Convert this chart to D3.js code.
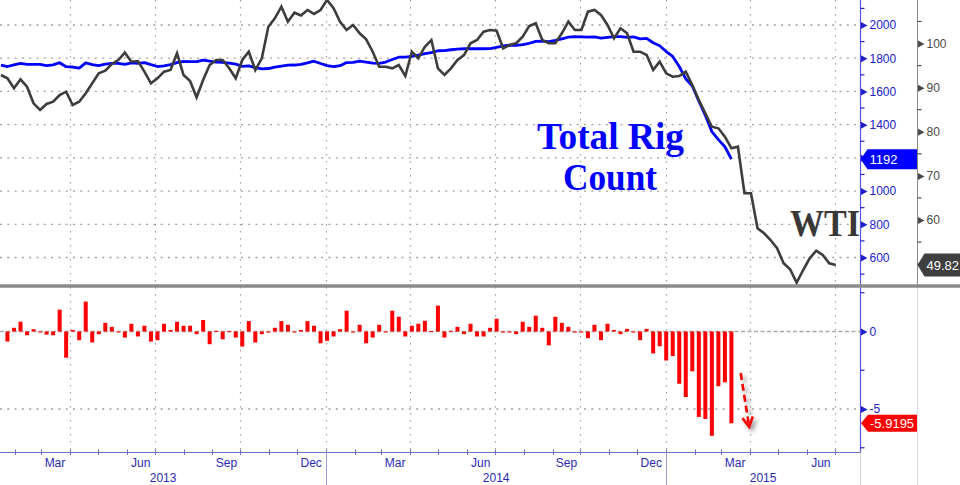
<!DOCTYPE html>
<html><head><meta charset="utf-8">
<script src="https://cdn.jsdelivr.net/npm/d3@7/dist/d3.min.js"></script>
<style>
body{margin:0;background:#fff;}
svg{display:block;font-family:"Liberation Sans",Arial,sans-serif;}
</style>
</head><body>
<svg id="chart" width="960" height="485"></svg>
<script>
// ---------------- DATA ----------------
// weekly observations, first week plotted at 2013-01-17
const startDate = Date.UTC(2013, 0, 17);

// Total rig count (weekly)
const rigCount = [
 1758,1750,1760,1769,1763,1763,1763,1755,1760,1773,
 1749,1747,1740,1772,1762,1756,1765,1769,1769,1763,
 1772,1769,1773,1761,1750,1754,1761,1773,1781,1780,
 1779,1789,1783,1776,1775,1770,1764,1751,1754,1743,
 1736,1738,1746,1753,1758,1759,1763,1772,1782,1768,
 1755,1749,1755,1774,1775,1782,1776,1770,1769,1777,
 1792,1806,1806,1811,1818,1828,1834,1845,1846,1851,
 1855,1858,1857,1857,1857,1858,1866,1874,1878,1877,
 1882,1890,1901,1903,1900,1907,1917,1927,1930,1929,
 1927,1929,1921,1926,1930,1930,1926,1928,1917,1920,
 1893,1875,1840,1811,1750,1676,1633,1543,1456,1358,
 1310,1267,1192
];

// Weekly % change of rig count (weeks 1..112)
const rigChangePct = [
 -0.65,0.24,0.63,-0.24,0.15,-0.05,-0.2,-0.24,1.41,-1.69,
 0.1,-0.56,1.93,-0.71,-0.17,0.56,0.3,-0.04,-0.39,0.5,
 -0.32,0.37,-0.65,-0.56,0.5,0.1,0.63,0.37,0.37,-0.17,
 0.74,-0.82,0.04,-0.5,0.02,-0.39,-0.97,0.67,-0.71,-0.17,
 -0.04,0.24,0.67,0.43,-0.04,0.1,0.67,0.37,-0.76,-0.6,
 -0.32,0.15,1.34,-0.02,0.43,-0.76,-0.39,0.43,-0.04,1.34,
 0.95,-0.32,0.37,0.5,0.69,0.03,1.67,-0.39,0.04,0.3,
 -0.17,0.5,-0.32,-0.32,0.24,0.82,-0.02,-0.02,-0.17,0.63,
 0.3,1.02,0.24,-0.89,0.95,0.56,0.3,-0.02,-0.02,-0.43,
 0.43,-0.56,0.5,0.1,-0.17,0.17,-0.02,-0.56,0.17,-1.41,
 -0.95,-1.87,-1.58,-3.37,-4.23,-2.57,-5.51,-5.64,-6.73,-3.53,
 -3.28,-5.9195
];

// WTI price (weekly, shifted forward)
const wtiPrice = [
 92.86,92.11,89.85,91.89,90.21,86.45,84.93,86.29,86.81,88.33,
 89.08,86.06,86.81,88.71,90.98,93.25,93.84,95.35,96.26,97.92,
 95.88,96.03,93.61,90.98,92.11,93.61,93.99,97.78,92.86,91.5,
 87.81,91.73,95.13,96.26,96.26,94.38,92.11,96.26,98.14,93.99,
 96.65,103.81,105.71,108.34,104.94,106.98,106.35,107.59,106.69,107.59,
 109.86,107.98,104.94,
 103.06,104.19,102.31,100.95,98.14,94.74,94.74,94.38,95.13,92.63,
 98.14,96.65,99.27,100.79,94.38,92.86,94.38,96.26,97.39,100.05,
 100.79,102.67,103.06,102.9,98.91,99.66,100.05,101.54,103.97,104.58,
 100.79,100.05,100.05,102.31,104.94,103.06,103.06,107.21,107.59,106.46,
 104.19,101.18,103.44,102.31,98.14,98.14,97.39,93.99,95.88,93.25,
 92.48,92.63,93.61,90.59,87.2,84.18,81.14,80.78,78.88,76.25,
 76.61,66.05,66.05,58.12,56.99,55.47,53.59,50.19,48.83,45.79,
 48.67,51.32,53.04,52.07,50.19,49.82
];

const rigTicks = [600, 800, 1000, 1200, 1400, 1600, 1800, 2000];
const rigMinorTicks = [500, 700, 900, 1100, 1300, 1500, 1700, 1900, 2100];
const wtiTicks = [60, 70, 80, 90, 100];
const wtiMinorTicks = [50, 55, 65, 75, 85, 95, 105, 110];
const changeTicks = [0, -5];
const changeMinorTicks = [2.5, -2.5, -7.5];
const monthLabels = {2: "Mar", 5: "Jun", 8: "Sep", 11: "Dec"};
const lastRigLabel = "1192";
const lastWtiLabel = "49.82";
const lastChangeLabel = "-5.9195";
const rigTitle = ["Total Rig", "Count"];
const wtiTitle = "WTI";
// annotation arrow (date, % change) start/end
const arrowFrom = [Date.UTC(2015, 2, 22), -2.68];
const arrowTo = [Date.UTC(2015, 2, 31), -6.15];

// ---------------- LAYOUT ----------------
const W = 960, H = 485;
const plotR = 860.5, wtiAxisX = 917.5;
const topB = 285, sepY = 286, axisY = 452;
const week = i => new Date(startDate + i * 7 * 864e5);

const x = d3.scaleUtc()
  .domain([new Date(Date.UTC(2013, 0, 16)), new Date(Date.UTC(2015, 6, 28))])
  .range([0, 860]);
const yRig = d3.scaleLinear().domain([600, 2000]).range([257.5, 25]);
const yWti = d3.scaleLinear().domain([60, 100]).range([220, 43.5]);
const yChg = d3.scaleLinear().domain([-5, 0]).range([409, 331.5]);

const svg = d3.select("#chart");
svg.append("rect").attr("width", W).attr("height", H).attr("fill", "#fff");

const defs = svg.append("defs");
defs.append("clipPath").attr("id", "clipTop")
  .append("rect").attr("x", 0).attr("y", 0).attr("width", 860).attr("height", topB);
const blur = defs.append("filter").attr("id", "shadow").attr("x", "-50%").attr("y", "-50%").attr("width", "200%").attr("height", "200%");
blur.append("feGaussianBlur").attr("stdDeviation", 2);

// ---------------- GRID ----------------
const grid = svg.append("g");
const quarters = d3.utcMonth.every(3).range(x.domain()[0], x.domain()[1]);
grid.selectAll(".vg").data(quarters).join("line")
  .attr("x1", d => Math.round(x(d)) + 0.5).attr("x2", d => Math.round(x(d)) + 0.5)
  .attr("y1", 0).attr("y2", axisY)
  .attr("stroke", "#a0a0a0").attr("stroke-width", 1.2).attr("stroke-dasharray", "1.5,5.5");
grid.selectAll(".hg").data(rigTicks).join("line")
  .attr("x1", 0).attr("x2", plotR).attr("y1", d => yRig(d)).attr("y2", d => yRig(d))
  .attr("stroke", "#a0a0a0").attr("stroke-width", 1.3).attr("stroke-dasharray", "2,5.3");
grid.append("line").attr("x1", 0).attr("x2", plotR)
  .attr("y1", yChg(-5)).attr("y2", yChg(-5))
  .attr("stroke", "#a0a0a0").attr("stroke-width", 1.3).attr("stroke-dasharray", "2,5.3");
grid.append("line").attr("x1", 0).attr("x2", plotR)
  .attr("y1", yChg(0)).attr("y2", yChg(0))
  .attr("stroke", "#aaaaaa").attr("stroke-width", 1.3).attr("stroke-dasharray", "4,2.5");

// ---------------- BARS ----------------
svg.append("g").selectAll("rect").data(rigChangePct).join("rect")
  .attr("x", (d, i) => x(week(i + 1)) - 2)
  .attr("width", 4)
  .attr("y", d => Math.min(yChg(d), yChg(0)))
  .attr("height", d => Math.max(1, Math.abs(yChg(d) - yChg(0))))
  .attr("fill", "#ff0000");

// ---------------- LINES ----------------
const lines = svg.append("g").attr("clip-path", "url(#clipTop)");
lines.append("path").datum(rigCount)
  .attr("d", d3.line().x((d, i) => x(week(i))).y(d => yRig(d)))
  .attr("fill", "none").attr("stroke", "#0000ff").attr("stroke-width", 2.8)
  .attr("stroke-linejoin", "round");
lines.append("path").datum(wtiPrice)
  .attr("d", d3.line().x((d, i) => x(week(i))).y(d => yWti(d)))
  .attr("fill", "none").attr("stroke", "#3d3d3d").attr("stroke-width", 2.6)
  .attr("stroke-linejoin", "miter");

// ---------------- ANNOTATION TEXT ----------------
const tt = svg.append("text").attr("font-family", "'Liberation Serif','Times New Roman',serif")
  .attr("font-weight", "bold").attr("font-size", 37).attr("fill", "#0000ff");
tt.append("tspan").attr("x", 537).attr("y", 149).attr("textLength", 147).attr("lengthAdjust", "spacingAndGlyphs").text(rigTitle[0]);
tt.append("tspan").attr("x", 563).attr("y", 190).attr("textLength", 94).attr("lengthAdjust", "spacingAndGlyphs").text(rigTitle[1]);
svg.append("text").attr("font-family", "'Liberation Serif','Times New Roman',serif")
  .attr("font-weight", "bold").attr("font-size", 38).attr("fill", "#383838")
  .attr("x", 790).attr("y", 236).attr("textLength", 70).attr("lengthAdjust", "spacingAndGlyphs")
  .text(wtiTitle);

// ---------------- ARROW ----------------
const ax1 = x(new Date(arrowFrom[0])), ay1 = yChg(arrowFrom[1]);
const ax2 = x(new Date(arrowTo[0])), ay2 = yChg(arrowTo[1]);
const ang = Math.atan2(ay2 - ay1, ax2 - ax1);
const hl = 11, ha = 0.5;
const head = [[ax2 - hl * Math.cos(ang - ha), ay2 - hl * Math.sin(ang - ha)], [ax2, ay2], [ax2 - hl * Math.cos(ang + ha), ay2 - hl * Math.sin(ang + ha)]];
const arrowG = svg.append("g");
[["#9a9a9a", 3, 3, "url(#shadow)"], ["#ff0000", 0, 0, null]].forEach(([c, dx, dy, f]) => {
  const g = arrowG.append("g").attr("transform", `translate(${dx},${dy})`);
  if (f) g.attr("filter", f);
  g.append("line").attr("x1", ax1).attr("y1", ay1).attr("x2", ax2 - 3 * Math.cos(ang)).attr("y2", ay2 - 3 * Math.sin(ang))
    .attr("stroke", c).attr("stroke-width", 2.6).attr("stroke-dasharray", "7,4");
  g.append("path").attr("d", d3.line()(head)).attr("fill", "none").attr("stroke", c).attr("stroke-width", 2.6);
});

// ---------------- FRAME / SEPARATORS ----------------
svg.append("line").attr("x1", plotR).attr("x2", plotR).attr("y1", axisY).attr("y2", H).attr("stroke", "#d0d0d0");
svg.append("line").attr("x1", wtiAxisX).attr("x2", wtiAxisX).attr("y1", sepY).attr("y2", H).attr("stroke", "#e0e0e0");
svg.append("line").attr("x1", wtiAxisX).attr("x2", wtiAxisX).attr("y1", 0).attr("y2", sepY).attr("stroke", "#8a8a8a");
svg.append("line").attr("x1", plotR).attr("x2", plotR).attr("y1", 0).attr("y2", axisY).attr("stroke", "#5555dd").attr("stroke-width", 1.2);
svg.append("line").attr("x1", 0).attr("x2", W).attr("y1", sepY).attr("y2", sepY).attr("stroke", "#8c8c8c").attr("stroke-width", 3.5);

// ---------------- X AXIS ----------------
const xa = svg.append("g");
xa.append("line").attr("x1", 0).attr("x2", plotR).attr("y1", axisY + 0.5).attr("y2", axisY + 0.5).attr("stroke", "#7070d0").attr("stroke-width", 1.2);
const months = d3.utcMonth.range(x.domain()[0], x.domain()[1]);
xa.selectAll(".mt").data(months).join("line")
  .attr("x1", d => Math.round(x(d)) + 0.5).attr("x2", d => Math.round(x(d)) + 0.5)
  .attr("y1", axisY - 2.5).attr("y2", axisY + 3).attr("stroke", "#7070d0");
xa.selectAll(".ml").data(months.filter(d => monthLabels[d.getUTCMonth()] !== undefined)).join("text")
  .attr("x", d => x(d3.utcDay.offset(d, 15))).attr("y", 467)
  .attr("text-anchor", "middle").attr("font-size", 12).attr("fill", "#2a2ab5")
  .text(d => monthLabels[d.getUTCMonth()]);
const years = [2013, 2014, 2015];
const yb = y => Math.max(0, x(new Date(Date.UTC(y, 0, 1))));
const ye = y => Math.min(860, x(new Date(Date.UTC(y + 1, 0, 1))));
years.forEach(yr => {
  xa.append("text").attr("x", (yb(yr) + ye(yr)) / 2).attr("y", 482)
    .attr("text-anchor", "middle").attr("font-size", 12).attr("fill", "#2a2ab5").text(yr);
});
[2014, 2015].forEach(yr => {
  const px = Math.round(x(new Date(Date.UTC(yr, 0, 1)))) + 0.5;
  xa.append("line").attr("x1", px).attr("x2", px).attr("y1", axisY).attr("y2", H).attr("stroke", "#9a9ad8");
});

// ---------------- Y AXES ----------------
function styleAxis(g, color, ax, minor, scale) {
  g.select(".domain").remove();
  g.selectAll(".tick text").attr("fill", color).attr("font-size", 12)
    .attr("font-family", "'Liberation Sans',Arial,sans-serif");
  g.selectAll(".tick").append("path").attr("d", "M0.5,-3.5L7,0L0.5,3.5Z").attr("fill", color);
  g.selectAll(".minor").data(minor).join("line").attr("class", "minor")
    .attr("x1", 0).attr("x2", 4).attr("y1", d => scale(d)).attr("y2", d => scale(d))
    .attr("stroke", color).attr("stroke-width", 1.2);
}
const rigAxis = svg.append("g").attr("transform", `translate(${plotR},0)`)
  .call(d3.axisRight(yRig).tickValues(rigTicks).tickSize(0).tickPadding(9).tickFormat(d3.format("d")));
styleAxis(rigAxis, "#2020cc", plotR, rigMinorTicks.filter(d => yRig(d) > 0 && yRig(d) < topB), yRig);

const wtiAxis = svg.append("g").attr("transform", `translate(${wtiAxisX},0)`)
  .call(d3.axisRight(yWti).tickValues(wtiTicks).tickSize(0).tickPadding(9).tickFormat(d3.format("d")));
styleAxis(wtiAxis, "#4a4a4a", wtiAxisX, wtiMinorTicks.filter(d => yWti(d) > 0 && yWti(d) < topB), yWti);

const chgAxis = svg.append("g").attr("transform", `translate(${plotR},0)`)
  .call(d3.axisRight(yChg).tickValues(changeTicks).tickSize(0).tickPadding(9).tickFormat(d => String(d)));
styleAxis(chgAxis, "#2020cc", plotR, changeMinorTicks, yChg);

// ---------------- VALUE TAGS ----------------
function tag(x0, x1, yc, h, fill, label, fs) {
  const g = svg.append("g");
  g.append("path").attr("d", `M${x0},${yc}L${x0 + 7},${yc - h / 2}L${x1},${yc - h / 2}L${x1},${yc + h / 2}L${x0 + 7},${yc + h / 2}Z`).attr("fill", fill);
  g.append("text").attr("x", x0 + 9).attr("y", yc).attr("dy", "0.36em").attr("font-size", fs)
    .attr("fill", "#fff").text(label);
}
tag(plotR, wtiAxisX - 0.5, yRig(rigCount[rigCount.length - 1]), 20, "#0000ff", lastRigLabel, 13);
tag(wtiAxisX, W, yWti(wtiPrice[wtiPrice.length - 1]), 23, "#3f3f3f", lastWtiLabel, 13);
tag(plotR + 0.5, wtiAxisX - 0.5, yChg(rigChangePct[rigChangePct.length - 1]), 17, "#ff0000", lastChangeLabel, 13);
</script>
</body></html>
